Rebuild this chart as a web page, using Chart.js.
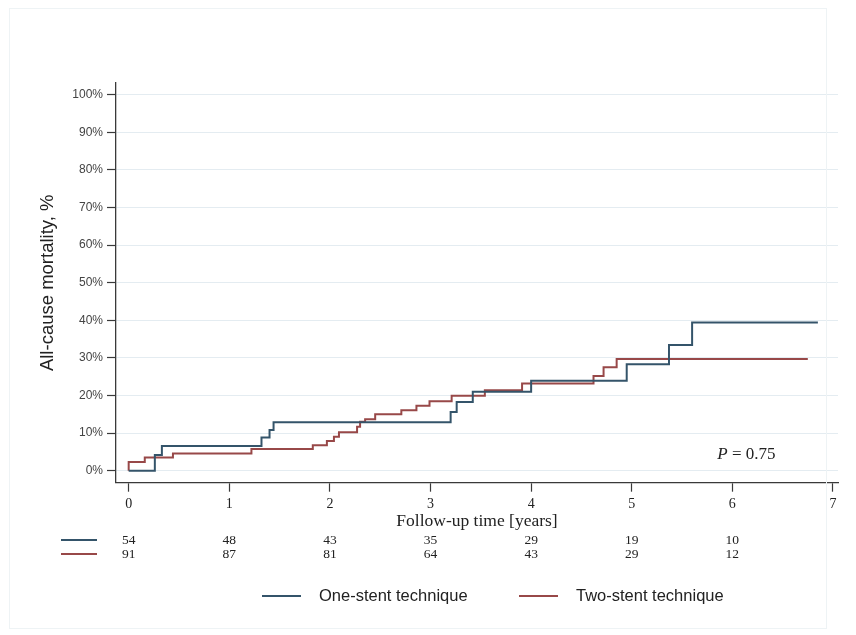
<!DOCTYPE html>
<html>
<head>
<meta charset="utf-8">
<script src="https://cdn.jsdelivr.net/npm/chart.js@4/dist/chart.umd.min.js"></script>
<style>
  html, body { margin: 0; padding: 0; background: #fff; }
  #wrap { width: 856px; height: 635px; position: relative; }
</style>
</head>
<body>
<div id="wrap"><canvas id="km"></canvas></div>
<script>
// Kaplan-Meier steps (years, cumulative mortality %)
const oneStentYears = [0, 0.26, 0.33, 1.32, 1.40, 1.44, 3.20, 3.26, 3.42, 4.00, 4.95, 5.37, 5.60, 6.85];
const oneStentMortality = [0, 4.2, 6.6, 8.8, 10.8, 12.9, 15.6, 18.3, 21.0, 23.9, 28.3, 33.4, 39.4, 39.4];

const twoStentYears = [0, 0, 0.16, 0.44, 1.22, 1.83, 1.97, 2.04, 2.09, 2.27, 2.30, 2.35, 2.45, 2.71, 2.86, 2.99, 3.21, 3.54, 3.91, 4.62, 4.72, 4.85, 6.75];
const twoStentMortality = [0, 2.3, 3.5, 4.6, 5.8, 6.8, 7.9, 9.0, 10.2, 11.7, 13.0, 13.7, 15.0, 16.1, 17.3, 18.5, 19.9, 21.4, 23.2, 25.2, 27.5, 29.7, 29.7];

// number at risk
const riskYears = [0, 1, 2, 3, 4, 5, 6];
const oneStentAtRisk = [54, 48, 43, 35, 29, 19, 10];
const twoStentAtRisk = [91, 87, 81, 64, 43, 29, 12];

const xTicks = [0, 1, 2, 3, 4, 5, 6, 7];
const yTicks = [0, 10, 20, 30, 40, 50, 60, 70, 80, 90, 100];

const pValueText = '0.75';
const pValuePos = { x: 5.85, y: 4.4 };

const BLUE = '#34546a';
const RED = '#984848';
const AXIS = '#3a3a3a';
const GRID = '#e4ecf1';

function toPoints(xs, ys) {
    return xs.map((x, i) => ({ x: x, y: ys[i] }));
}

// risk table, p-value, legend and frame drawn on top
const extrasPlugin = {
    id: 'extras',
    afterDraw(chart) {
        const ctx = chart.ctx;
        const xs = chart.scales.x;
        const ys = chart.scales.y;
        ctx.save();

        // faint frame round the figure
        ctx.strokeStyle = '#eef3f5';
        ctx.lineWidth = 1;
        ctx.strokeRect(9.5, 8.5, 817, 620);

        // number at risk
        const rows = [
            { vals: oneStentAtRisk, color: chart.data.datasets[0].borderColor, y: 540 },
            { vals: twoStentAtRisk, color: chart.data.datasets[1].borderColor, y: 554 },
        ];
        ctx.font = '13.5px "Liberation Serif", "DejaVu Serif", serif';
        ctx.textAlign = 'center';
        ctx.textBaseline = 'middle';
        rows.forEach(row => {
            ctx.strokeStyle = row.color;
            ctx.lineWidth = 2;
            ctx.beginPath();
            ctx.moveTo(61, row.y);
            ctx.lineTo(97, row.y);
            ctx.stroke();
            ctx.fillStyle = '#222';
            row.vals.forEach((v, i) => {
                ctx.fillText(String(v), xs.getPixelForValue(riskYears[i]), row.y);
            });
        });

        // P value
        const px = xs.getPixelForValue(pValuePos.x);
        const py = ys.getPixelForValue(pValuePos.y);
        ctx.textAlign = 'left';
        ctx.fillStyle = '#222';
        ctx.font = 'italic 17px "Liberation Serif", serif';
        ctx.fillText('P', px, py);
        const pw = ctx.measureText('P').width;
        ctx.font = '17px "Liberation Serif", serif';
        ctx.fillText(' = ' + pValueText, px + pw, py);

        // legend
        const items = [
            { x: 262, ds: chart.data.datasets[0] },
            { x: 519, ds: chart.data.datasets[1] },
        ];
        ctx.font = '16.5px "Liberation Sans", Arial, sans-serif';
        items.forEach(it => {
            ctx.strokeStyle = it.ds.borderColor;
            ctx.lineWidth = 2;
            ctx.beginPath();
            ctx.moveTo(it.x, 596);
            ctx.lineTo(it.x + 39, 596);
            ctx.stroke();
            ctx.fillStyle = '#222';
            ctx.fillText(it.ds.label, it.x + 57, 596);
        });
        ctx.restore();
    }
};

new Chart(document.getElementById('km'), {
    type: 'line',
    data: {
        datasets: [
            {
                label: 'One-stent technique',
                data: toPoints(oneStentYears, oneStentMortality),
                borderColor: BLUE,
                borderWidth: 2,
                stepped: true,
                pointRadius: 0,
                fill: false,
            },
            {
                label: 'Two-stent technique',
                data: toPoints(twoStentYears, twoStentMortality),
                borderColor: RED,
                borderWidth: 2,
                stepped: true,
                pointRadius: 0,
                fill: false,
            },
        ],
    },
    options: {
        responsive: true,
        maintainAspectRatio: false,
        animation: false,
        layout: { padding: { top: 83, right: 18, left: 0, bottom: 0 } },
        plugins: {
            legend: { display: false },
            tooltip: { enabled: false },
        },
        scales: {
            x: {
                type: 'linear',
                min: -0.126,
                max: 7.05,
                afterBuildTicks: s => { s.ticks = xTicks.map(v => ({ value: v })); },
                afterFit: s => { s.height = 152.3; },
                grid: { drawOnChartArea: false, drawTicks: true, tickLength: 9, tickColor: AXIS, tickWidth: 1.2 },
                border: { display: true, color: AXIS, width: 1.3 },
                ticks: {
                    color: '#222',
                    padding: 4,
                    maxRotation: 0,
                    font: { family: '"Liberation Serif", serif', size: 14 },
                },
                title: {
                    display: true,
                    text: 'Follow-up time [years]',
                    color: '#222',
                    font: { family: '"Liberation Serif", serif', size: 17.5 },
                    padding: { top: 0, bottom: 103 },
                },
            },
            y: {
                type: 'linear',
                min: -3.19,
                max: 103.1,
                afterBuildTicks: s => { s.ticks = yTicks.map(v => ({ value: v })); },
                afterFit: s => { s.width = 116; },
                grid: { color: GRID, lineWidth: 1, drawTicks: true, tickLength: 9, tickColor: AXIS, tickWidth: 1.2 },
                border: { display: true, color: AXIS, width: 1.3 },
                ticks: {
                    color: '#444',
                    padding: 4,
                    font: { family: '"Liberation Sans", Arial, sans-serif', size: 12 },
                    callback: v => v + '%',
                },
                title: {
                    display: true,
                    text: 'All-cause mortality, %',
                    color: '#222',
                    font: { family: '"Liberation Sans", Arial, sans-serif', size: 18.5 },
                    padding: { top: 37, bottom: 0 },
                },
            },
        },
    },
    plugins: [extrasPlugin],
});
</script>
</body>
</html>
